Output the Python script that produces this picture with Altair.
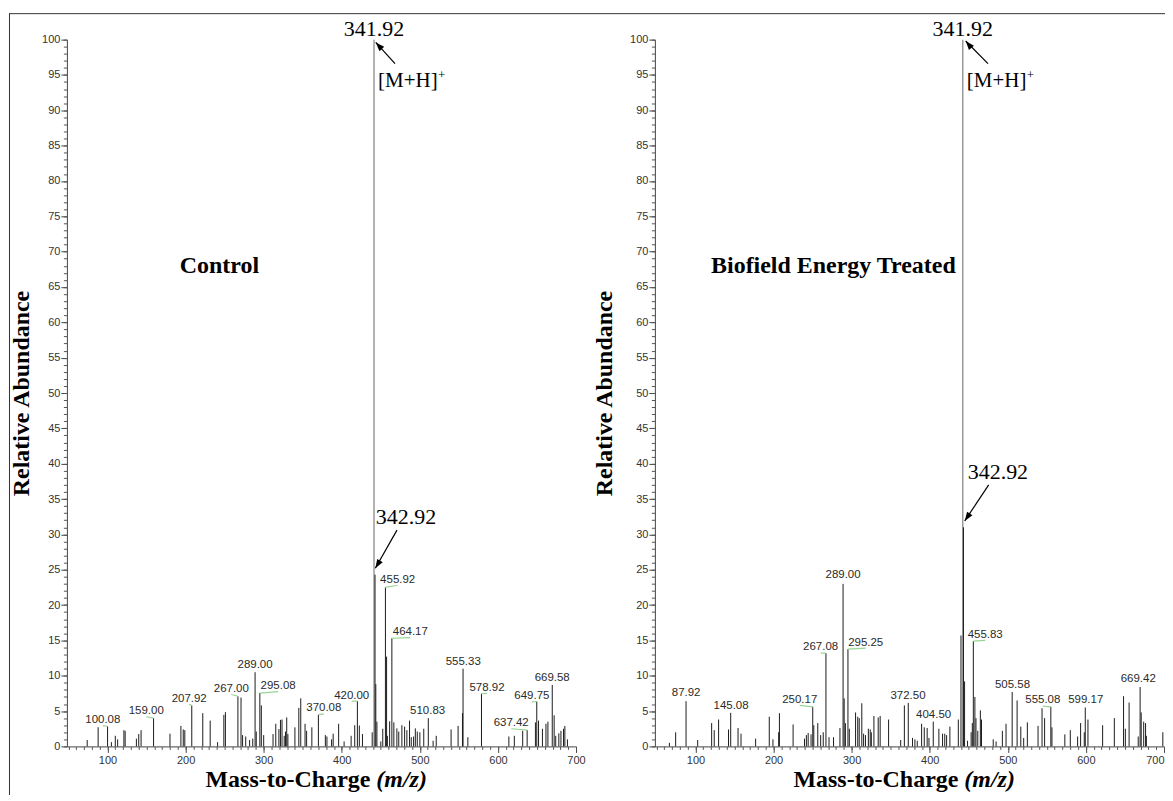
import altair as alt
import pandas as pd

# ---------------- data ----------------
# Control spectrum: m/z positions on the axis and relative abundance
ctrl_mz = [74, 88, 100.08, 105, 110, 113, 121, 122.6, 137, 140, 143, 159.00, 180, 194, 197, 199,
           207.92, 222, 231.5, 241, 249, 251, 267.00, 271, 273, 277, 282, 286, 289.00, 290.5,
           295.08, 297, 300, 312, 315.5, 319.5, 321.5, 323.5, 326.3, 328, 329.5, 331, 340, 345,
           347.5, 353, 355, 361.7, 370.08, 379, 381, 387, 389, 396, 403, 412, 416.6, 420.00,
           422.5, 426.5, 439, 441.3, 442.6, 443.6, 445, 450, 452.5, 455.92, 457.4, 458.4, 461.3,
           464.17, 466.7, 470.6, 473, 477, 480.5, 483.4, 486.8, 489, 492, 494.2, 496.7, 500, 505,
           510.83, 517, 521, 540, 549, 554.6, 555.33, 561.5, 578.92, 614, 621, 631.7, 637.42,
           648, 649.75, 652, 657, 661.5, 664, 669.58, 672, 674, 678, 680.7, 684, 685.7, 689]
ctrl_ab = [0.9, 2.7, 2.85, 0.6, 1.5, 1.0, 2.3, 2.2, 1.1, 1.75, 2.3, 4.0, 1.8, 2.9, 2.4, 2.3,
           5.8, 4.7, 3.65, 0.6, 4.45, 4.85, 7.1, 6.9, 1.6, 1.4, 0.9, 1.1, 10.5, 2.1,
           7.55, 5.8, 1.6, 1.75, 3.2, 2.45, 3.75, 3.8, 1.5, 2.1, 4.1, 1.75, 2.7, 5.45,
           6.8, 3.2, 2.2, 2.7, 4.5, 1.6, 1.4, 1.0, 1.8, 3.2, 0.7, 1.5, 3.0, 6.4,
           2.95, 1.75, 2.0, 100, 24.3, 8.8, 3.5, 0.7, 2.5, 22.5, 12.7, 1.5, 3.55,
           15.3, 3.4, 2.55, 2.1, 3.0, 2.8, 2.3, 3.65, 1.3, 1.4, 2.55, 2.1, 2.0, 2.5,
           4.0, 0.8, 1.5, 2.4, 2.9, 4.7, 11.0, 1.3, 7.45, 1.4, 1.5, 2.2, 2.3,
           3.4, 6.35, 3.65, 2.5, 3.2, 3.5, 8.7, 4.4, 1.5, 1.85, 2.2, 2.5, 2.9, 1.0]

# Biofield Energy Treated spectrum
trt_mz = [66.6, 74.6, 87.92, 102.8, 120.7, 124, 129.6, 142.3, 145.08, 154.5, 158.3, 177, 194.5,
          199.2, 206.5, 207.5, 225, 239.6, 242, 244.3, 248, 250.17, 251.5, 256.6, 260.3, 263.6,
          267.08, 271, 276.8, 285, 289.00, 290.4, 292, 295.25, 297, 305, 307.8, 309.7, 313,
          315.3, 317.7, 321.4, 323.8, 325.2, 328.5, 334, 336.5, 347.3, 362.8, 367.5, 372.50,
          377.9, 381, 384, 389.6, 393, 396.7, 399, 404.50, 411.7, 416.4, 419.2, 421.6, 425.8,
          436.6, 440, 442.3, 443.2, 444.6, 448.4, 453, 454.5, 455.83, 457.8, 459.2, 461.5,
          464.8, 466.3, 481.3, 485, 493, 497.7, 505.58, 511.9, 516.6, 520.3, 525, 538.7, 543.8,
          547.1, 555.08, 556.5, 573, 580, 589.4, 593.2, 597.9, 599.17, 602.6, 621.4, 636.4,
          648.2, 650.5, 655.3, 667, 669.42, 670.8, 674, 676.4, 677.4, 698.5]
trt_ab = [0.5, 2.0, 6.4, 0.9, 3.3, 2.3, 3.8, 2.4, 4.75, 2.6, 1.8, 1.1, 4.2,
          1.0, 2.0, 4.7, 3.1, 1.1, 1.6, 1.9, 1.7, 5.6, 3.0, 3.3, 1.6, 2.0,
          13.2, 1.3, 1.3, 2.6, 23.0, 6.8, 3.3, 13.75, 2.5, 4.8, 4.2, 4.0, 6.1,
          1.8, 1.6, 2.5, 2.4, 2.0, 4.3, 4.1, 4.3, 3.8, 0.9, 5.8, 6.15,
          1.2, 1.0, 0.8, 3.2, 2.7, 2.6, 1.2, 3.5, 2.5, 1.8, 1.8, 1.6, 2.8,
          3.8, 15.7, 100, 31.0, 9.2, 0.8, 2.0, 3.3, 14.9, 7.0, 4.0, 2.2,
          5.1, 3.8, 1.0, 0.7, 2.2, 3.2, 7.7, 6.5, 2.8, 1.2, 3.4, 2.9, 5.4,
          4.0, 5.6, 2.7, 1.7, 2.3, 1.4, 3.3, 2.0, 5.5, 3.8, 3.0, 4.0,
          7.1, 2.5, 6.2, 1.4, 8.4, 4.8, 3.5, 3.3, 1.5, 2.0]

# Peak labels: text, peak m/z, peak top, label centre (m/z, abundance), leader line
ctrl_lbl = ["100.08", "159.00", "207.92", "267.00", "289.00", "295.08", "370.08", "420.00",
            "455.92", "464.17", "510.83", "555.33", "578.92", "637.42", "649.75", "669.58"]
ctrl_lbl_pk = [100.08, 159.0, 207.92, 267.0, 289.0, 295.08, 370.08, 420.0,
               455.92, 464.17, 510.83, 555.33, 578.92, 637.42, 649.75, 669.58]
ctrl_lbl_top = [2.85, 4.0, 5.8, 7.1, 10.5, 7.55, 4.5, 6.4, 22.5, 15.3, 4.0, 11.0, 7.45, 2.3, 6.35, 8.7]
ctrl_lbl_x = [94, 149.6, 204.6, 258.6, 289, 318.5, 377, 412.7, 471.6, 487.8, 510, 555.6, 586, 617, 643.5, 669.5]
ctrl_lbl_y = [3.75, 5.0, 6.75, 8.15, 11.5, 8.55, 5.4, 7.2, 23.6, 16.2, 5.0, 12.0, 8.3, 3.3, 7.1, 9.7]
ctrl_lbl_lead = [1, 1, 1, 1, 0, 1, 1, 1, 1, 1, 0, 0, 1, 1, 1, 0]

trt_lbl = ["87.92", "145.08", "250.17", "267.08", "289.00", "295.25", "372.50", "404.50",
           "455.83", "505.58", "555.08", "599.17", "669.42"]
trt_lbl_pk = [87.92, 145.08, 250.17, 267.08, 289.0, 295.25, 372.5, 404.5, 455.83, 505.58, 555.08, 599.17, 669.42]
trt_lbl_top = [6.4, 4.75, 5.6, 13.2, 23.0, 13.75, 6.15, 3.5, 14.9, 7.7, 5.6, 5.5, 8.4]
trt_lbl_x = [88, 145.6, 233.5, 260.3, 289, 318, 372.2, 405, 471, 506, 544.8, 599.8, 667]
trt_lbl_y = [7.5, 5.7, 6.6, 14.0, 24.2, 14.7, 7.15, 4.4, 15.8, 8.7, 6.5, 6.5, 9.5]
trt_lbl_lead = [0, 0, 1, 1, 0, 1, 0, 0, 1, 0, 1, 0, 0]

x_ticks = [100, 200, 300, 400, 500, 600, 700]
y_ticks = list(range(0, 101, 5))

X_DOMAIN = [48, 700]
Y_DOMAIN = [0, 100]
W, H = 510, 708
SERIF = "Liberation Serif"
SANS = "Liberation Sans"


def one(**cols):
    return pd.DataFrame({k: [v] for k, v in cols.items()})


def panel(mz, ab, lbl, pk, top, lx, ly, lead, name, name_xy, ann, ytitle_x, frame, flush):
    xs = alt.Scale(domain=X_DOMAIN, nice=False, zero=False)
    ys = alt.Scale(domain=Y_DOMAIN, nice=False, zero=False)

    def X(f):
        return alt.X(f, scale=xs, axis=None)

    def Y(f):
        return alt.Y(f, scale=ys, axis=None)

    peaks = alt.Chart(pd.DataFrame({"mz": mz, "ab": ab})).mark_rule().encode(
        x=alt.X("mz:Q", scale=xs, axis=alt.Axis(
            orient="bottom", values=x_ticks, tickSize=6, title=None, grid=False,
            labelFont=SANS, labelFontSize=11, labelColor="#333", labelPadding=2,
            labelFlush=flush, domainColor="#444", tickColor="#444")),
        y=alt.Y("ab:Q", scale=ys, axis=alt.Axis(
            orient="left", values=y_ticks, tickSize=6, grid=False,
            labelFont=SANS, labelFontSize=11, labelColor="#333", labelPadding=1,
            domainColor="#444", tickColor="#444",
            title="Relative Abundance", titleFont=SERIF, titleFontSize=24,
            titleFontWeight="bold", titleColor="black", titleAngle=270,
            titleX=ytitle_x, titleY=H / 2, titleBaseline="middle", titleAlign="center")),
        y2=alt.datum(0),
        color=alt.condition("datum.ab >= 99", alt.value("#8a8a8a"), alt.value("#1c1c1c")),
        strokeWidth=alt.condition("datum.ab >= 99", alt.value(1.3), alt.value(1.0)),
    )

    minor = alt.Chart(one(mz=100, ab=0)).mark_point(opacity=0).encode(
        x=alt.X("mz:Q", scale=xs, axis=alt.Axis(
            orient="bottom", values=list(range(50, 701, 10)), labels=False, domain=False,
            tickSize=3, title=None, grid=False, tickColor="#555")),
        y=alt.Y("ab:Q", scale=ys, axis=alt.Axis(
            orient="left", values=list(range(0, 101)), labels=False, domain=False,
            tickSize=3.5, title=None, grid=False, tickColor="#555")),
    )

    ldf = pd.DataFrame({"t": lbl, "pk": pk, "top": top, "lx": lx, "ly": ly, "lead": lead})
    ldf["ly0"] = ldf["ly"] - 0.8
    leaders = alt.Chart(ldf[ldf["lead"] == 1]).mark_rule(color="#95d695", strokeWidth=1.2).encode(
        x=X("pk:Q"), y=Y("top:Q"), x2="lx:Q", y2="ly0:Q")
    labels = alt.Chart(ldf).mark_text(font=SANS, fontSize=11.5, color="#2a2a2a",
                                      baseline="middle").encode(
        x=X("lx:Q"), y=Y("ly:Q"), text="t:N")

    layers = [peaks, minor, leaders, labels]

    # annotations in Times-like serif
    layers.append(alt.Chart(one(x=ann["main"][0], y=ann["main"][1], t="341.92")).mark_text(
        font=SERIF, fontSize=22, color="black", baseline="middle").encode(
        x=X("x:Q"), y=Y("y:Q"), text="t:N"))
    layers.append(alt.Chart(one(x=ann["mh"][0], y=ann["mh"][1], t="[M+H]")).mark_text(
        font=SERIF, fontSize=21, color="black", baseline="middle", align="left").encode(
        x=X("x:Q"), y=Y("y:Q"), text="t:N"))
    layers.append(alt.Chart(one(x=ann["mh"][0], y=ann["mh"][1], t="+")).mark_text(
        font=SERIF, fontSize=13, color="black", baseline="middle", align="left",
        dx=60, dy=-6).encode(x=X("x:Q"), y=Y("y:Q"), text="t:N"))
    layers.append(alt.Chart(one(x=ann["iso"][0], y=ann["iso"][1], t="342.92")).mark_text(
        font=SERIF, fontSize=22, color="black", baseline="middle").encode(
        x=X("x:Q"), y=Y("y:Q"), text="t:N"))
    layers.append(alt.Chart(one(x=name_xy[0], y=name_xy[1], t=name)).mark_text(
        font=SERIF, fontSize=24, fontWeight="bold", color="black", baseline="middle").encode(
        x=X("x:Q"), y=Y("y:Q"), text="t:N"))

    for key in ("arrow1", "arrow2"):
        x1, y1, x2, y2, ang = ann[key]
        adf = one(x1=x1, y1=y1, x2=x2, y2=y2)
        layers.append(alt.Chart(adf).mark_rule(color="black", strokeWidth=1.2).encode(
            x=X("x1:Q"), y=Y("y1:Q"), x2="x2:Q", y2="y2:Q"))
        layers.append(alt.Chart(adf).mark_point(
            shape="M0,0L-0.36,1L0.36,1Z", filled=True, color="black", opacity=1,
            size=324, angle=ang, strokeWidth=0).encode(x=X("x2:Q"), y=Y("y2:Q")))

    # x-axis title with italic (m/z)
    tdf = one(a=0)
    layers.append(alt.Chart(tdf).mark_text(
        font=SERIF, fontSize=24, fontWeight="bold", color="black", align="right",
        baseline="alphabetic", text="Mass-to-Charge").encode(
        x=alt.value(304), y=alt.value(749)))
    layers.append(alt.Chart(tdf).mark_text(
        font=SERIF, fontSize=24, fontWeight="bold", fontStyle="italic", color="black",
        align="left", baseline="alphabetic", text="(m/z)").encode(
        x=alt.value(310), y=alt.value(749)))

    if frame:
        # figure frame (left and top edges), running past the page edge
        layers.append(alt.Chart(tdf).mark_rule(color="#333", strokeWidth=1).encode(
            x=alt.value(-57.5), y=alt.value(-26), y2=alt.value(780)))
        layers.append(alt.Chart(tdf).mark_rule(color="#333", strokeWidth=1).encode(
            x=alt.value(-58), x2=alt.value(1120), y=alt.value(-26)))

    return alt.layer(*layers).resolve_axis(x="independent", y="independent").properties(
        width=W, height=H)


ctrl_ann = {
    "main": (441.3, 101.5),
    "mh": (446.5, 94.1),
    "iso": (482.2, 32.5),
    "arrow1": (468.2, 96.6, 443.5, 99.6, 317),
    "arrow2": (470.7, 30.6, 443.0, 25.2, 211),
}
trt_ann = {
    "main": (442.3, 101.5),
    "mh": (447.5, 94.1),
    "iso": (487.3, 38.8),
    "arrow1": (474.6, 96.6, 446.0, 99.8, 320),
    "arrow2": (475.5, 37.0, 444.8, 31.9, 214),
}

left = panel(ctrl_mz, ctrl_ab, ctrl_lbl, ctrl_lbl_pk, ctrl_lbl_top, ctrl_lbl_x, ctrl_lbl_y,
             ctrl_lbl_lead, "Control", (243.4, 67.9), ctrl_ann, -45, True, False)
right = panel(trt_mz, trt_ab, trt_lbl, trt_lbl_pk, trt_lbl_top, trt_lbl_x, trt_lbl_y,
              trt_lbl_lead, "Biofield Energy Treated", (276.6, 67.9), trt_ann, -50, False, True)

# negative right/bottom padding crops the figure at the window edge like the reference
chart = alt.hconcat(left, right, spacing=79, bounds="flush").properties(
    padding={"left": 0, "top": 4, "right": -21, "bottom": -25},
    background="white",
).configure_view(stroke=None)

chart.save("out.html", embed_options={"renderer": "svg", "actions": False})
